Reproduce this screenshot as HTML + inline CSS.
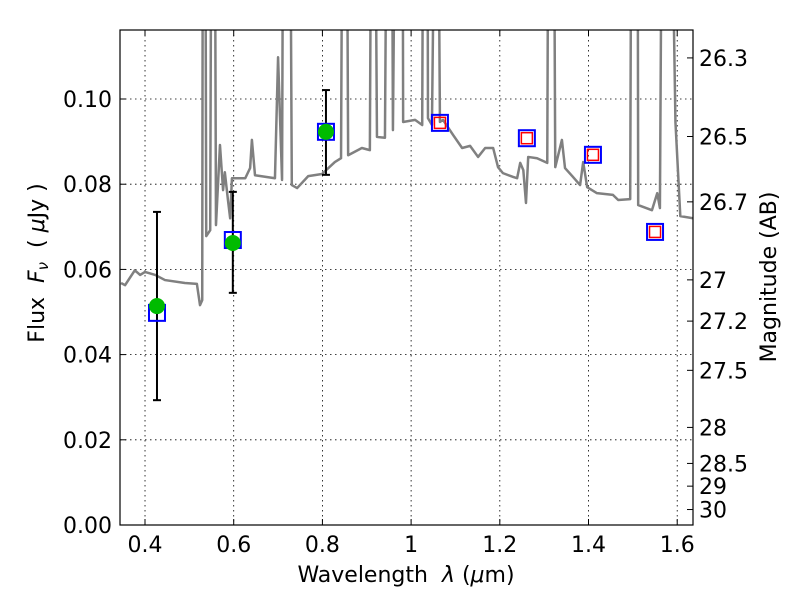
<!DOCTYPE html>
<html><head><meta charset="utf-8"><style>body{margin:0;background:#fff}svg{display:block}text{font-family:"DejaVu Sans","Liberation Sans",sans-serif;white-space:pre}</style></head>
<body>
<svg id="c" width="800" height="600"></svg>
<script>
const specWave=[0.346,0.355,0.377,0.389,0.400,0.423,0.445,0.490,0.517,0.524,0.529,0.531,0.535,0.538,0.547,0.551,0.556,0.560,0.569,0.576,0.580,0.587,0.592,0.596,0.626,0.637,0.641,0.648,0.693,0.700,0.709,0.713,0.725,0.731,0.743,0.768,0.799,0.828,0.842,0.847,0.853,0.858,0.889,0.907,0.912,0.916,0.923,0.941,0.948,0.955,0.959,0.968,0.980,0.982,1.009,1.025,1.029,1.036,1.038,1.047,1.058,1.065,1.072,1.095,1.115,1.133,1.151,1.167,1.185,1.196,1.207,1.230,1.239,1.246,1.253,1.259,1.264,1.284,1.307,1.311,1.320,1.325,1.340,1.347,1.365,1.381,1.388,1.397,1.419,1.455,1.467,1.494,1.498,1.510,1.512,1.543,1.555,1.561,1.568,1.580,1.596,1.607,1.636];
const specFlux=[0.0568,0.0563,0.0598,0.0587,0.0594,0.0587,0.0575,0.0568,0.0566,0.0516,0.0528,0.2,0.2,0.0678,0.0692,0.2,0.2,0.0704,0.0892,0.0786,0.0828,0.0763,0.0720,0.0814,0.0814,0.0838,0.0904,0.0821,0.0814,0.1098,0.0810,0.2,0.2,0.0798,0.0791,0.0819,0.0824,0.0852,0.0861,0.2,0.2,0.0868,0.0885,0.0880,0.2,0.2,0.0911,0.0909,0.2,0.2,0.0927,0.2,0.2,0.0946,0.0951,0.0939,0.2,0.2,0.0955,0.0939,0.2,0.0946,0.0951,0.0915,0.0885,0.0890,0.0864,0.0885,0.0885,0.0840,0.0826,0.0817,0.0814,0.0850,0.0833,0.0756,0.0864,0.0861,0.0850,0.2,0.2,0.0840,0.0904,0.0838,0.0817,0.0798,0.0852,0.0793,0.0779,0.0775,0.0763,0.0765,0.2,0.2,0.0751,0.0739,0.0779,0.0744,0.2,0.2,0.0946,0.0725,0.0720];
const obsWave=[0.427,0.598,0.808];
const obsFlux=[0.0514,0.0662,0.0923];
const errLo=[0.0293,0.0545,0.0822];
const errHi=[0.0735,0.0782,0.1021];
const modWave=[0.427,0.598,0.808,1.065,1.261,1.410,1.550];
const modFlux=[0.0498,0.0669,0.0923,0.0944,0.0908,0.0869,0.0688];
const predWave=[1.065,1.261,1.410,1.550];
const predFlux=[0.0944,0.0908,0.0869,0.0688];
const xTicks=[0.4,0.6,0.8,1.0,1.2,1.4,1.6];
const xTickLabels=["0.4","0.6","0.8","1","1.2","1.4","1.6"];
const yTicks=[0,0.02,0.04,0.06,0.08,0.10];
const yTickLabels=["0.00","0.02","0.04","0.06","0.08","0.10"];
const magTicks=[26.3,26.5,26.7,27,27.2,27.5,28,28.5,29,30];
const magTickLabels=["26.3","26.5","26.7","27","27.2","27.5","28","28.5","29","30"];

const L=120,R=693,T=30,B=525,X0=0.3436,X1=1.6356,Y0=0,Y1=0.1162;
const sx=v=>L+(v-X0)/(X1-X0)*(R-L);
const sy=v=>B-(v-Y0)/(Y1-Y0)*(B-T);
const magToFlux=m=>Math.pow(10,(23.9-m)/2.5);
const svg=document.getElementById('c');
const NS='http://www.w3.org/2000/svg';
function mk(tag,attrs,parent){const e=document.createElementNS(NS,tag);for(const k in attrs)e.setAttribute(k,attrs[k]);(parent||svg).appendChild(e);return e;}

const defs=mk('defs',{});
const cp=mk('clipPath',{id:'clip'},defs);mk('rect',{x:L,y:T,width:R-L,height:B-T},cp);

xTicks.forEach((v,i)=>{
 const g=mk('line',{x1:sx(v),x2:sx(v),y1:T,y2:B,stroke:'#000','stroke-width':0.8,'stroke-dasharray':'1.5,3.5'});
 
 
 mk('line',{x1:sx(v),x2:sx(v),y1:B,y2:B-6,stroke:'#000'});
 mk('line',{x1:sx(v),x2:sx(v),y1:T,y2:T+6,stroke:'#000'});
 const t=mk('text',{x:sx(v),y:B+27,'font-size':22,'text-anchor':'middle'});t.textContent=xTickLabels[i];
 
 
});
yTicks.forEach((v,i)=>{
 if(v>0){const g=mk('line',{x1:L,x2:R,y1:sy(v),y2:sy(v),stroke:'#000','stroke-width':0.8,'stroke-dasharray':'1.5,3.5'});
 
 }
 mk('line',{x1:L,x2:L+6,y1:sy(v),y2:sy(v),stroke:'#000'});
 const t=mk('text',{x:L-8,y:sy(v)+8,'font-size':22,'text-anchor':'end'});t.textContent=yTickLabels[i];
 
 
});
magTicks.forEach((m,i)=>{
 const y=sy(magToFlux(m));
 mk('line',{x1:R,x2:R-6,y1:y,y2:y,stroke:'#000'});
 const t=mk('text',{x:R+6,y:y+8,'font-size':22});t.textContent=magTickLabels[i];
 
 
});

const sp=mk('polyline',{points:specWave.map((w,i)=>sx(w)+','+sy(specFlux[i])).join(' '),fill:'none',stroke:'#808080','stroke-width':2.5,'stroke-linejoin':'round','clip-path':'url(#clip)'});



obsWave.forEach((w,i)=>{
 const g=mk('g',{stroke:'#000','stroke-width':2});
 
 
 mk('line',{x1:sx(w),x2:sx(w),y1:sy(errLo[i]),y2:sy(errHi[i])},g);
 mk('line',{x1:sx(w)-4,x2:sx(w)+4,y1:sy(errLo[i]),y2:sy(errLo[i])},g);
 mk('line',{x1:sx(w)-4,x2:sx(w)+4,y1:sy(errHi[i]),y2:sy(errHi[i])},g);
});
modWave.forEach((w,i)=>{
 const r=mk('rect',{x:sx(w)-8,y:sy(modFlux[i])-8,width:16,height:16,fill:'none',stroke:'#0000ff','stroke-width':2});
 
 
});
predWave.forEach((w,i)=>{
 const r=mk('rect',{x:sx(w)-5.5,y:sy(predFlux[i])-5.5,width:11,height:11,fill:'none',stroke:'#ff0000','stroke-width':1.5});
 
 
});
obsWave.forEach((w,i)=>{
 const c=mk('circle',{cx:sx(w),cy:sy(obsFlux[i]),r:8,fill:'#00bb00'});
 
 
});

const fr=mk('rect',{x:L,y:T,width:R-L,height:B-T,fill:'none',stroke:'#000','stroke-width':1.2});



const xl=mk('text',{x:406,y:582,'font-size':22,'text-anchor':'middle'});
xl.innerHTML='Wavelength\u00a0\u00a0<tspan font-style="italic">λ</tspan> (<tspan font-style="italic">μ</tspan>m)';


const yl=mk('text',{x:0,y:0,'font-size':22,'text-anchor':'middle',transform:'translate(44,263) rotate(-90)'});
yl.innerHTML='Flux\u00a0\u00a0<tspan font-style="italic">F<tspan font-size="15" dy="4">ν</tspan></tspan><tspan dy="-4">\u00a0\u00a0(\u00a0</tspan><tspan font-style="italic">μ</tspan>Jy )';


const rl=mk('text',{x:0,y:0,'font-size':22,'text-anchor':'middle',transform:'translate(776,277) rotate(-90)'});
rl.textContent='Magnitude (AB)';


</script>
</body></html>
